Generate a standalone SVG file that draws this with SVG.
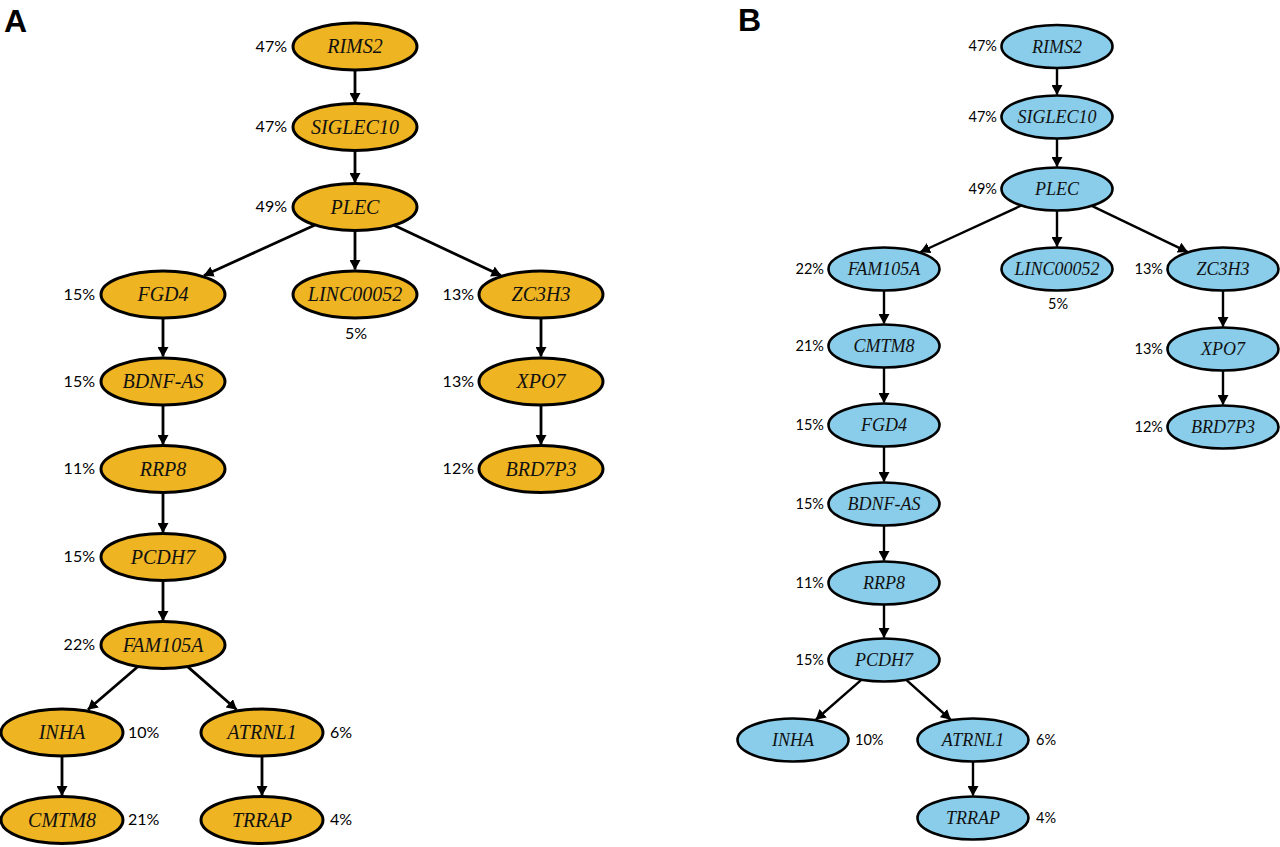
<svg xmlns="http://www.w3.org/2000/svg" width="1280" height="847" viewBox="0 0 1280 847">
<style>
.bg{fill:#ffffff}
.na{fill:#EEB422;stroke:#000;stroke-width:3}
.nb{fill:#89CDEA;stroke:#000;stroke-width:2.6}
.ga{font-family:"Liberation Serif","Times New Roman",serif;font-style:italic;font-size:20px;fill:#111;text-anchor:middle}
.gb{font-family:"Liberation Serif","Times New Roman",serif;font-style:italic;font-size:18px;fill:#111;text-anchor:middle}
.pa{font-family:Lato,"Liberation Sans",sans-serif;font-size:16px;fill:#000}
.pb{font-family:Lato,"Liberation Sans",sans-serif;font-size:14.5px;fill:#000}
.r{text-anchor:end}
.m{text-anchor:middle}
.panel{font-family:"Liberation Sans",Arial,sans-serif;font-weight:bold;font-size:32px;fill:#000}
.ea{fill:none;stroke:#000;stroke-width:2.8;marker-end:url(#arr)}
.eb{fill:none;stroke:#000;stroke-width:2.4;marker-end:url(#arr)}
</style>
<defs>
<marker id="arr" markerUnits="userSpaceOnUse" markerWidth="10" markerHeight="11" refX="9.5" refY="5.5" orient="auto" viewBox="0 0 10 11">
<path d="M0,0 L10,5.5 L0,11 z" fill="#000"/>
</marker>
</defs>
<rect class="bg" x="0" y="0" width="1280" height="847"/>
<text class="panel" x="4" y="32">A</text>
<text class="panel" x="738" y="31">B</text>

<g id="connectors">
<!-- Panel A -->
<path class="ea" d="M355,70 L355,102.5"/>
<path class="ea" d="M355,151 L355,182.5"/>
<path class="ea" d="M355,231 L355,269.5"/>
<path class="ea" d="M315,225 L204,275.5"/>
<path class="ea" d="M394,225.3 L501,275.5"/>
<path class="ea" d="M163,318 L163,356.5"/>
<path class="ea" d="M163,405 L163,444.5"/>
<path class="ea" d="M163,493 L163,532.5"/>
<path class="ea" d="M163,581 L163,620.5"/>
<path class="ea" d="M541,318 L541,356.5"/>
<path class="ea" d="M541,405 L541,444.5"/>
<path class="ea" d="M138,666.5 L88,709.5"/>
<path class="ea" d="M187.6,666.6 L236.5,709.5"/>
<path class="ea" d="M62,756 L62,795.5"/>
<path class="ea" d="M262,756 L262,795.5"/>
<!-- Panel B -->
<path class="eb" d="M1057,68 L1057,94.5"/>
<path class="eb" d="M1057,138.5 L1057,166.5"/>
<path class="eb" d="M1057,210.5 L1057,246.5"/>
<path class="eb" d="M1021.4,205.5 L920.5,252"/>
<path class="eb" d="M1091.8,205.8 L1187.5,251.8"/>
<path class="eb" d="M884,290.5 L884,323.5"/>
<path class="eb" d="M884,367.5 L884,402.5"/>
<path class="eb" d="M884,446.5 L884,481.5"/>
<path class="eb" d="M884,525.5 L884,560.5"/>
<path class="eb" d="M884,604.5 L884,637.5"/>
<path class="eb" d="M1223,290.5 L1223,326.5"/>
<path class="eb" d="M1223,370.5 L1223,404.5"/>
<path class="eb" d="M861.6,679.7 L816,719.5"/>
<path class="eb" d="M906,679.7 L950.5,719.5"/>
<path class="eb" d="M973,761.5 L973,795.5"/>
</g>

<!-- Panel A nodes -->
<g id="a-rims2"><ellipse class="na" cx="355" cy="46.5" rx="62" ry="23.5"/><text class="ga" x="355" y="53">RIMS2</text><text class="pa r" x="287" y="51.5">47%</text></g>
<g id="a-siglec10"><ellipse class="na" cx="355" cy="127" rx="62" ry="23.5"/><text class="ga" x="355" y="133.5">SIGLEC10</text><text class="pa r" x="287" y="132">47%</text></g>
<g id="a-plec"><ellipse class="na" cx="355" cy="207" rx="62" ry="23.5"/><text class="ga" x="355" y="213.5">PLEC</text><text class="pa r" x="287" y="212">49%</text></g>
<g id="a-fgd4"><ellipse class="na" cx="163" cy="294.5" rx="62" ry="23.5"/><text class="ga" x="163" y="301">FGD4</text><text class="pa r" x="95" y="299.5">15%</text></g>
<g id="a-linc00052"><ellipse class="na" cx="355" cy="294.5" rx="62" ry="23.5"/><text class="ga" x="355" y="301">LINC00052</text><text class="pa m" x="356" y="338.5">5%</text></g>
<g id="a-zc3h3"><ellipse class="na" cx="541" cy="294.5" rx="62" ry="23.5"/><text class="ga" x="541" y="301">ZC3H3</text><text class="pa r" x="474" y="299.5">13%</text></g>
<g id="a-bdnf-as"><ellipse class="na" cx="163" cy="381.5" rx="62" ry="23.5"/><text class="ga" x="163" y="388">BDNF-AS</text><text class="pa r" x="95" y="386.5">15%</text></g>
<g id="a-xpo7"><ellipse class="na" cx="541" cy="381.5" rx="62" ry="23.5"/><text class="ga" x="541" y="388">XPO7</text><text class="pa r" x="474" y="386.5">13%</text></g>
<g id="a-rrp8"><ellipse class="na" cx="163" cy="469" rx="62" ry="23.5"/><text class="ga" x="163" y="475.5">RRP8</text><text class="pa r" x="95" y="474">11%</text></g>
<g id="a-brd7p3"><ellipse class="na" cx="541" cy="469" rx="62" ry="23.5"/><text class="ga" x="541" y="475.5">BRD7P3</text><text class="pa r" x="474" y="474">12%</text></g>
<g id="a-pcdh7"><ellipse class="na" cx="163" cy="557" rx="62" ry="23.5"/><text class="ga" x="163" y="563.5">PCDH7</text><text class="pa r" x="95" y="562">15%</text></g>
<g id="a-fam105a"><ellipse class="na" cx="163" cy="645" rx="62" ry="23.5"/><text class="ga" x="163" y="651.5">FAM105A</text><text class="pa r" x="95" y="650">22%</text></g>
<g id="a-inha"><ellipse class="na" cx="62" cy="732.5" rx="61" ry="23.5"/><text class="ga" x="62" y="739">INHA</text><text class="pa" x="128" y="737.5">10%</text></g>
<g id="a-atrnl1"><ellipse class="na" cx="262" cy="732.5" rx="61" ry="23.5"/><text class="ga" x="262" y="739">ATRNL1</text><text class="pa" x="330" y="737.5">6%</text></g>
<g id="a-cmtm8"><ellipse class="na" cx="62" cy="820" rx="61" ry="23.5"/><text class="ga" x="62" y="826.5">CMTM8</text><text class="pa" x="128" y="825">21%</text></g>
<g id="a-trrap"><ellipse class="na" cx="262" cy="820" rx="61" ry="23.5"/><text class="ga" x="262" y="826.5">TRRAP</text><text class="pa" x="330" y="825">4%</text></g>

<!-- Panel B nodes -->
<g id="b-rims2"><ellipse class="nb" cx="1057" cy="46.5" rx="55.5" ry="21.5"/><text class="gb" x="1057" y="52.5">RIMS2</text><text class="pb r" x="997" y="51">47%</text></g>
<g id="b-siglec10"><ellipse class="nb" cx="1057" cy="117" rx="55.5" ry="21.5"/><text class="gb" x="1057" y="123">SIGLEC10</text><text class="pb r" x="997" y="121.5">47%</text></g>
<g id="b-plec"><ellipse class="nb" cx="1057" cy="189" rx="55.5" ry="21.5"/><text class="gb" x="1057" y="195">PLEC</text><text class="pb r" x="997" y="193.5">49%</text></g>
<g id="b-fam105a"><ellipse class="nb" cx="884" cy="269" rx="55.5" ry="21.5"/><text class="gb" x="884" y="275">FAM105A</text><text class="pb r" x="824" y="273.5">22%</text></g>
<g id="b-linc00052"><ellipse class="nb" cx="1057" cy="269" rx="55.5" ry="21.5"/><text class="gb" x="1057" y="275">LINC00052</text><text class="pb m" x="1058" y="309">5%</text></g>
<g id="b-zc3h3"><ellipse class="nb" cx="1223" cy="269" rx="55.5" ry="21.5"/><text class="gb" x="1223" y="275">ZC3H3</text><text class="pb r" x="1163" y="273.5">13%</text></g>
<g id="b-cmtm8"><ellipse class="nb" cx="884" cy="346" rx="55.5" ry="21.5"/><text class="gb" x="884" y="352">CMTM8</text><text class="pb r" x="824" y="350.5">21%</text></g>
<g id="b-xpo7"><ellipse class="nb" cx="1223" cy="349" rx="55.5" ry="21.5"/><text class="gb" x="1223" y="355">XPO7</text><text class="pb r" x="1163" y="353.5">13%</text></g>
<g id="b-fgd4"><ellipse class="nb" cx="884" cy="425" rx="55.5" ry="21.5"/><text class="gb" x="884" y="431">FGD4</text><text class="pb r" x="824" y="429.5">15%</text></g>
<g id="b-brd7p3"><ellipse class="nb" cx="1223" cy="427" rx="55.5" ry="21.5"/><text class="gb" x="1223" y="433">BRD7P3</text><text class="pb r" x="1163" y="431.5">12%</text></g>
<g id="b-bdnf-as"><ellipse class="nb" cx="884" cy="504" rx="55.5" ry="21.5"/><text class="gb" x="884" y="510">BDNF-AS</text><text class="pb r" x="824" y="508.5">15%</text></g>
<g id="b-rrp8"><ellipse class="nb" cx="884" cy="583" rx="55.5" ry="21.5"/><text class="gb" x="884" y="589">RRP8</text><text class="pb r" x="824" y="587.5">11%</text></g>
<g id="b-pcdh7"><ellipse class="nb" cx="884" cy="660" rx="55.5" ry="21.5"/><text class="gb" x="884" y="666">PCDH7</text><text class="pb r" x="824" y="664.5">15%</text></g>
<g id="b-inha"><ellipse class="nb" cx="793" cy="740" rx="55.5" ry="21.5"/><text class="gb" x="793" y="746">INHA</text><text class="pb" x="855" y="744.5">10%</text></g>
<g id="b-atrnl1"><ellipse class="nb" cx="973" cy="740" rx="55.5" ry="21.5"/><text class="gb" x="973" y="746">ATRNL1</text><text class="pb" x="1036" y="744.5">6%</text></g>
<g id="b-trrap"><ellipse class="nb" cx="973" cy="818" rx="55.5" ry="21.5"/><text class="gb" x="973" y="824">TRRAP</text><text class="pb" x="1036" y="822.5">4%</text></g>
</svg>
